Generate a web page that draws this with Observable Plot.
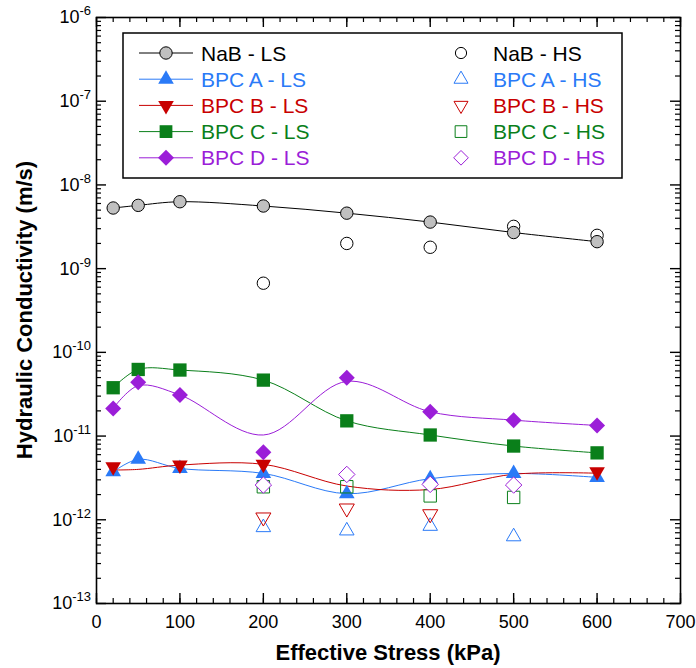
<!DOCTYPE html>
<html><head><meta charset="utf-8">
<script src="https://cdn.jsdelivr.net/npm/d3@7"></script>
<script src="https://cdn.jsdelivr.net/npm/@observablehq/plot@0.6"></script>
<style>body{margin:0;background:#fff}</style>
</head><body><div id="chart"></div>
<script>
// ---- data ----
const stressLS = [20, 50, 100, 200, 300, 400, 500, 600];
const nabLS  = [5.3e-9, 5.7e-9, 6.3e-9, 5.6e-9, 4.6e-9, 3.6e-9, 2.7e-9, 2.1e-9];
const nabHSx = [200, 300, 400, 500, 600];
const nabHS  = [6.7e-10, 2.0e-9, 1.8e-9, 3.2e-9, 2.5e-9];

const bpcA_LS  = [3.74e-12, 5.27e-12, 4.11e-12, 3.58e-12, 2.05e-12, 3.1e-12, 3.58e-12, 3.21e-12];
const bpcA_HSx = [200, 300, 400, 500];
const bpcA_HS  = [8.1e-13, 7.4e-13, 8.4e-13, 6.3e-13];

const bpcB_LSx = [20, 100, 200, 600];
const bpcB_LS  = [4.3e-12, 4.5e-12, 4.6e-12, 3.75e-12];
const bpcB_fit = [3.93e-12, 4.0e-12, 4.5e-12, 4.6e-12, 2.53e-12, 2.3e-12, 3.5e-12, 3.6e-12];
const bpcB_HSx = [200, 300, 400];
const bpcB_HS  = [1.07e-12, 1.37e-12, 1.17e-12];

const bpcC_LS  = [3.78e-11, 6.25e-11, 6.15e-11, 4.66e-11, 1.52e-11, 1.03e-11, 7.6e-12, 6.3e-12];
const bpcC_HSx = [200, 300, 400, 500];
const bpcC_HS  = [2.48e-12, 2.48e-12, 1.93e-12, 1.85e-12];

const bpcD_LS  = [2.14e-11, 4.4e-11, 3.1e-11, 6.4e-12, 4.97e-11, 1.95e-11, 1.55e-11, 1.34e-11];
const bpcD_fit = [2.14e-11, 4.0e-11, 3.1e-11, 1.03e-11, 4.5e-11, 1.95e-11, 1.55e-11, 1.34e-11];
const bpcD_HSx = [200, 300, 400, 500];
const bpcD_HS  = [2.6e-12, 3.48e-12, 2.65e-12, 2.6e-12];

const xMajor = [0, 100, 200, 300, 400, 500, 600, 700];
const xMinor = d3.range(0, 701, 20);
const yExps = [-13, -12, -11, -10, -9, -8, -7, -6];
const yMinor = yExps.slice(0, -1).flatMap(e => [2,3,4,5,6,7,8,9].map(m => m * Math.pow(10, e)));
const yMajor = yExps.map(e => Math.pow(10, e));

const legendLabels = ["NaB", "BPC A", "BPC B", "BPC C", "BPC D"];

// ---- style ----
const FONT = "'Liberation Sans', Arial, Helvetica, sans-serif";
const C = {nab: "#000000", A: "#2a7af7", B: "#c80000", Cc: "#0a7f1a", D: "#9b1ed8"};
const W = 696, H = 668, mL = 96, mR = 16, mT = 17, mB = 65;
const iw = W - mL - mR, ih = H - mT - mB;

const pts = (xs, ys) => xs.map((x, i) => ({x, y: ys[i]}));
const lineOpts = (stroke) => ({x: "x", y: "y", stroke, strokeWidth: 1, curve: "catmull-rom"});

const plot = Plot.plot({
  width: W, height: H,
  marginLeft: mL, marginRight: mR, marginTop: mT, marginBottom: mB,
  style: {fontFamily: FONT, fontSize: "18px", background: "white", color: "black"},
  x: {domain: [0, 700]},
  y: {type: "log", domain: [1e-13, 1e-6], axis: null},
  marks: [
    Plot.tickX(xMinor, {x: d => d, insetTop: ih - 5, stroke: "black", strokeWidth: 1.2}),
    Plot.tickX(xMinor, {x: d => d, insetBottom: ih - 5, stroke: "black", strokeWidth: 1.2}),
    Plot.tickX(xMajor, {x: d => d, insetTop: ih - 10, stroke: "black", strokeWidth: 1.4}),
    Plot.tickX(xMajor, {x: d => d, insetBottom: ih - 10, stroke: "black", strokeWidth: 1.4}),
    Plot.tickY(yMinor, {y: d => d, insetRight: iw - 5, stroke: "black", strokeWidth: 1.2}),
    Plot.tickY(yMinor, {y: d => d, insetLeft: iw - 5, stroke: "black", strokeWidth: 1.2}),
    Plot.tickY(yMajor, {y: d => d, insetRight: iw - 10, stroke: "black", strokeWidth: 1.4}),
    Plot.tickY(yMajor, {y: d => d, insetLeft: iw - 10, stroke: "black", strokeWidth: 1.4}),
    Plot.frame({stroke: "black", strokeWidth: 1.6}),
    Plot.axisX({ticks: xMajor, tickSize: 0, tickPadding: 12, tickFormat: d => String(d), label: null}),

    Plot.line(pts(stressLS, nabLS), lineOpts(C.nab)),
    Plot.line(pts(stressLS, bpcA_LS), lineOpts(C.A)),
    Plot.line(pts(stressLS, bpcB_fit), lineOpts(C.B)),
    Plot.line(pts(stressLS, bpcC_LS), lineOpts(C.Cc)),
    Plot.line(pts(stressLS, bpcD_fit), lineOpts(C.D)),

    Plot.dot(pts(nabHSx, nabHS), {x: "x", y: "y", r: 6.2, symbol: "circle", fill: "none", stroke: "black", strokeWidth: 1}),
    Plot.dot(pts(stressLS, nabLS), {x: "x", y: "y", r: 6.2, symbol: "circle", fill: "#c0c0c0", stroke: "black", strokeWidth: 1}),
    Plot.dot(pts(stressLS, bpcA_LS), {x: "x", y: "y", r: 5.8, symbol: "triangle", fill: C.A}),
    Plot.dot(pts(bpcB_LSx, bpcB_LS), {x: "x", y: "y", r: 5.8, symbol: "triangle", rotate: 180, fill: C.B}),
    Plot.dot(pts(stressLS, bpcC_LS), {x: "x", y: "y", r: 7.5, symbol: "square", fill: C.Cc}),
    Plot.dot(pts(stressLS, bpcD_LS), {x: "x", y: "y", r: 7.2, symbol: "diamond2", fill: C.D}),
    Plot.dot(pts(bpcA_HSx, bpcA_HS), {x: "x", y: "y", r: 5.4, symbol: "triangle", fill: "none", stroke: C.A, strokeWidth: 1}),
    Plot.dot(pts(bpcB_HSx, bpcB_HS), {x: "x", y: "y", r: 5.6, symbol: "triangle", rotate: 180, fill: "none", stroke: C.B, strokeWidth: 1}),
    Plot.dot(pts(bpcC_HSx, bpcC_HS), {x: "x", y: "y", r: 7, symbol: "square", fill: "none", stroke: C.Cc, strokeWidth: 1}),
    Plot.dot(pts(bpcD_HSx, bpcD_HS), {x: "x", y: "y", r: 7.4, symbol: "diamond2", fill: "white", stroke: C.D, strokeWidth: 1})
  ]
});

const svg = d3.select(plot);
const ys = plot.scale("y");

const gY = svg.append("g").attr("text-anchor", "end").attr("font-size", 18).attr("fill", "black");
yExps.forEach(e => {
  const t = gY.append("text").attr("x", mL - 5).attr("y", ys.apply(Math.pow(10, e))).attr("dy", "0.36em");
  t.append("tspan").text("10");
  t.append("tspan").attr("dy", "-0.62em").attr("font-size", 13).text(String(e));
});

svg.append("text").attr("x", mL + iw / 2).attr("y", 660).attr("text-anchor", "middle")
  .attr("font-weight", "bold").attr("font-size", 22).attr("fill", "black").text("Effective Stress (kPa)");
svg.append("text").attr("transform", `translate(24,${mT + ih / 2}) rotate(-90)`).attr("text-anchor", "middle")
  .attr("dy", "0.35em").attr("font-weight", "bold").attr("font-size", 22).attr("fill", "black").text("Hydraulic Conductivity (m/s)");

// legend
const lg = svg.append("g").attr("text-anchor", "start");
lg.append("rect").attr("x", 123).attr("y", 33).attr("width", 499).attr("height", 145)
  .attr("fill", "white").attr("stroke", "black").attr("stroke-width", 1.5);
const legSpec = [
  {name: legendLabels[0], color: C.nab, sym: d3.symbolCircle, r: 6.2, rot: 0, fillLS: "#c0c0c0", strokeLS: "black", fillHS: "none"},
  {name: legendLabels[1], color: C.A, sym: d3.symbolTriangle, r: 5.8, rot: 0, fillLS: C.A, strokeLS: "none", fillHS: "none"},
  {name: legendLabels[2], color: C.B, sym: d3.symbolTriangle, r: 5.8, rot: 180, fillLS: C.B, strokeLS: "none", fillHS: "none"},
  {name: legendLabels[3], color: C.Cc, sym: d3.symbolSquare, r: 7.2, rot: 0, fillLS: C.Cc, strokeLS: "none", fillHS: "none"},
  {name: legendLabels[4], color: C.D, sym: d3.symbolDiamond2, r: 7.2, rot: 0, fillLS: C.D, strokeLS: "none", fillHS: "white"}
];
legSpec.forEach((s, i) => {
  const cy = 53 + i * 26.2;
  const path = d3.symbol(s.sym, s.r * s.r * Math.PI)();
  lg.append("line").attr("x1", 139).attr("x2", 193).attr("y1", cy).attr("y2", cy)
    .attr("stroke", s.color).attr("stroke-width", 1);
  lg.append("path").attr("d", path).attr("transform", `translate(166,${cy}) rotate(${s.rot})`)
    .attr("fill", s.fillLS).attr("stroke", s.strokeLS).attr("stroke-width", 1);
  lg.append("text").attr("x", 201).attr("y", cy).attr("dy", "0.36em").attr("font-size", 21)
    .attr("text-anchor", "start").attr("fill", s.color).text(s.name + " - LS");
  const pathH = d3.symbol(s.sym, (s.r - 0.6) * (s.r - 0.6) * Math.PI)();
  lg.append("path").attr("d", pathH).attr("transform", `translate(461,${cy}) rotate(${s.rot})`)
    .attr("fill", s.fillHS).attr("stroke", s.color).attr("stroke-width", 1);
  lg.append("text").attr("x", 493).attr("y", cy).attr("dy", "0.36em").attr("font-size", 21)
    .attr("text-anchor", "start").attr("fill", s.color).text(s.name + " - HS");
});

document.getElementById("chart").appendChild(plot);
</script>
</body></html>
